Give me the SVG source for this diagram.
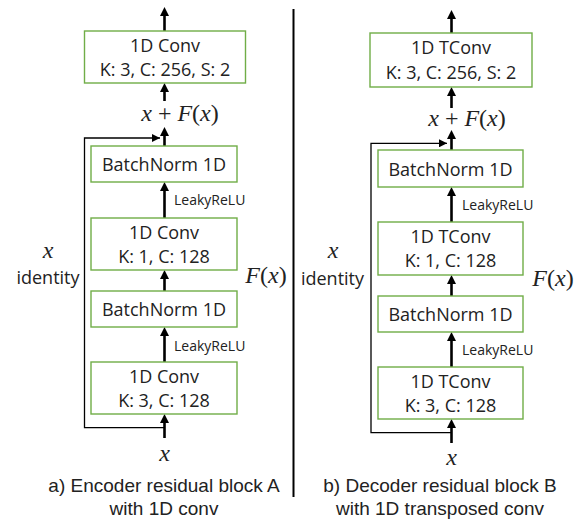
<svg xmlns="http://www.w3.org/2000/svg" width="584" height="521" viewBox="0 0 584 521">
<defs>
<style>
.box{fill:#fff;stroke:#70AD47;stroke-width:1.4}
.t{font-family:"Open Sans","Liberation Sans",sans-serif;font-size:18px;fill:#222;text-anchor:middle}
.s{font-family:"Open Sans","Liberation Sans",sans-serif;font-size:14px;fill:#222}
.cap{font-family:"Liberation Sans","Open Sans",sans-serif;font-size:19px;fill:#222;text-anchor:middle}
.m{font-family:"Liberation Serif","DejaVu Serif",serif;font-size:24px;fill:#222;text-anchor:middle}
.i{font-style:italic}
.a{stroke:#000;stroke-width:2.6;fill:none}
.id{stroke:#000;stroke-width:1.3;fill:none}
</style>
<marker id="ah" viewBox="0 0 9 9" refX="6" refY="4.5" markerWidth="9" markerHeight="9" markerUnits="userSpaceOnUse" orient="auto">
<path d="M0,0 L9,4.5 L0,9 z" fill="#000"/>
</marker>
<marker id="ahs" viewBox="0 0 8 8" refX="8" refY="4" markerWidth="8" markerHeight="8" markerUnits="userSpaceOnUse" orient="auto">
<path d="M0,0 L8,4 L0,8 z" fill="#000"/>
</marker>
</defs>
<rect width="584" height="521" fill="#fff"/>
<line x1="293.5" y1="9" x2="293.5" y2="497" stroke="#000" stroke-width="2"/>

<g id="connectors">
<!-- left -->
<path class="id" d="M164.5,427.7 H84.5 V138 H160" marker-end="url(#ahs)"/>
<line class="a" x1="164.5" y1="31" x2="164.5" y2="10" marker-end="url(#ah)"/>
<line class="a" x1="164.5" y1="101" x2="164.5" y2="86" marker-end="url(#ah)"/>
<line class="a" x1="164.5" y1="146" x2="164.5" y2="130" marker-end="url(#ah)"/>
<line class="a" x1="164.5" y1="218" x2="164.5" y2="185" marker-end="url(#ah)"/>
<line class="a" x1="164.5" y1="291" x2="164.5" y2="273" marker-end="url(#ah)"/>
<line class="a" x1="164.5" y1="362" x2="164.5" y2="330" marker-end="url(#ah)"/>
<line class="a" x1="164.5" y1="438" x2="164.5" y2="417" marker-end="url(#ah)"/>
<!-- right -->
<path class="id" d="M451.5,432.7 H371 V143.3 H447" marker-end="url(#ahs)"/>
<line class="a" x1="451.5" y1="33" x2="451.5" y2="13" marker-end="url(#ah)"/>
<line class="a" x1="451.5" y1="108" x2="451.5" y2="90" marker-end="url(#ah)"/>
<line class="a" x1="451.5" y1="150" x2="451.5" y2="133" marker-end="url(#ah)"/>
<line class="a" x1="451.5" y1="222" x2="451.5" y2="190" marker-end="url(#ah)"/>
<line class="a" x1="451.5" y1="296" x2="451.5" y2="278" marker-end="url(#ah)"/>
<line class="a" x1="451.5" y1="367" x2="451.5" y2="335" marker-end="url(#ah)"/>
<line class="a" x1="451.5" y1="443" x2="451.5" y2="422" marker-end="url(#ah)"/>
</g>

<g id="labels">
<text class="s" x="174" y="205">LeakyReLU</text>
<text class="s" x="174" y="351">LeakyReLU</text>
<text class="s" x="462" y="210">LeakyReLU</text>
<text class="s" x="462" y="355">LeakyReLU</text>
<text class="m" x="180" y="121"><tspan class="i">x</tspan> + <tspan class="i">F</tspan>(<tspan class="i">x</tspan>)</text>
<text class="m" x="467" y="126"><tspan class="i">x</tspan> + <tspan class="i">F</tspan>(<tspan class="i">x</tspan>)</text>
<text class="m i" x="48" y="258">x</text>
<text class="t" x="48" y="284">identity</text>
<text class="m" x="266" y="283"><tspan class="i">F</tspan>(<tspan class="i">x</tspan>)</text>
<text class="m i" x="333" y="258">x</text>
<text class="t" x="332.5" y="285">identity</text>
<text class="m" x="553" y="286"><tspan class="i">F</tspan>(<tspan class="i">x</tspan>)</text>
<text class="m i" x="164.5" y="461">x</text>
<text class="m i" x="451.5" y="465">x</text>
<text class="cap" x="164" y="492">a) Encoder residual block A</text>
<text class="cap" x="164" y="515">with 1D conv</text>
<text class="cap" x="440" y="492">b) Decoder residual block B</text>
<text class="cap" x="440" y="515">with 1D transposed conv</text>
</g>

<g id="enc-conv-out">
<rect class="box" x="84.5" y="31" width="161" height="52"/>
<text class="t" x="165" y="52">1D Conv</text>
<text class="t" x="165" y="76">K: 3, C: 256, S: 2</text>
</g>
<g id="enc-bn2">
<rect class="box" x="91" y="146" width="146" height="36"/>
<text class="t" x="164" y="171">BatchNorm 1D</text>
</g>
<g id="enc-conv2">
<rect class="box" x="91" y="218" width="146" height="52"/>
<text class="t" x="164" y="239">1D Conv</text>
<text class="t" x="164" y="263">K: 1, C: 128</text>
</g>
<g id="enc-bn1">
<rect class="box" x="91" y="291" width="146" height="36"/>
<text class="t" x="164" y="316">BatchNorm 1D</text>
</g>
<g id="enc-conv1">
<rect class="box" x="91" y="362" width="146" height="52"/>
<text class="t" x="164" y="383">1D Conv</text>
<text class="t" x="164" y="407">K: 3, C: 128</text>
</g>

<g id="dec-tconv-out">
<rect class="box" x="370" y="33" width="162" height="54"/>
<text class="t" x="451" y="54">1D TConv</text>
<text class="t" x="451" y="79">K: 3, C: 256, S: 2</text>
</g>
<g id="dec-bn2">
<rect class="box" x="378" y="150" width="145" height="37"/>
<text class="t" x="450.5" y="176">BatchNorm 1D</text>
</g>
<g id="dec-tconv2">
<rect class="box" x="378" y="222" width="145" height="53"/>
<text class="t" x="450.5" y="243">1D TConv</text>
<text class="t" x="450.5" y="267">K: 1, C: 128</text>
</g>
<g id="dec-bn1">
<rect class="box" x="378" y="296" width="145" height="36"/>
<text class="t" x="450.5" y="321">BatchNorm 1D</text>
</g>
<g id="dec-tconv1">
<rect class="box" x="378" y="367" width="145" height="52"/>
<text class="t" x="450.5" y="388">1D TConv</text>
<text class="t" x="450.5" y="412">K: 3, C: 128</text>
</g>
</svg>
